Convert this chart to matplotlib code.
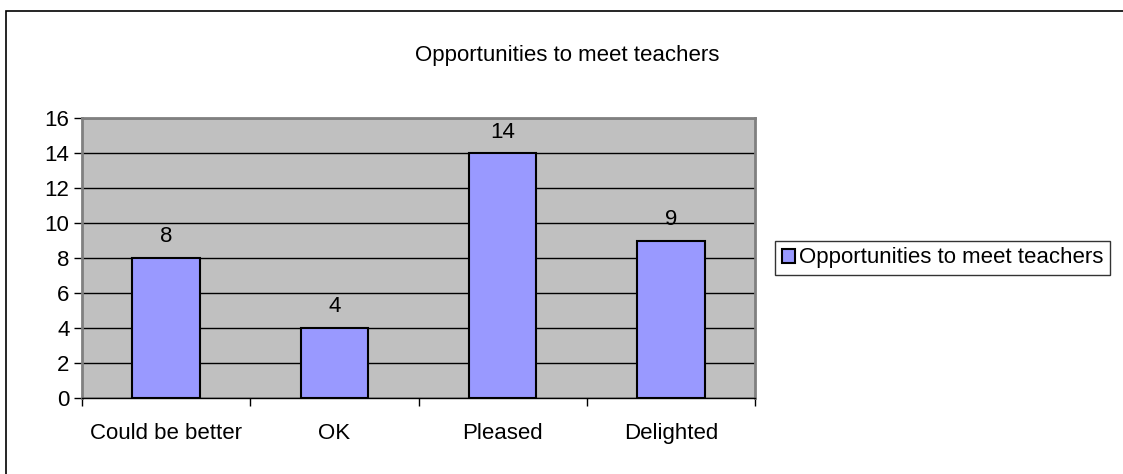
import matplotlib.pyplot as plt
from matplotlib.patches import Rectangle

categories = ['Could be better', 'OK', 'Pleased', 'Delighted']
values = [8, 4, 14, 9]
series_name = 'Opportunities to meet teachers'
title = 'Opportunities to meet teachers'
yticks = [0, 2, 4, 6, 8, 10, 12, 14, 16]

plt.rcParams['font.family'] = ['Liberation Sans', 'DejaVu Sans']
fs = 16

W, H = 1123, 474
fig = plt.figure(figsize=(W / 100, H / 100), dpi=100)

# outer chart border (right/bottom fall outside the image)
fig.patches.append(Rectangle((6 / W, -0.5), 1.2, 0.5 + 1 - 11 / H, transform=fig.transFigure,
                             fill=False, edgecolor='black', lw=1.2, zorder=0))

ax = fig.add_axes([82 / W, 1 - 398 / H, (755 - 82) / W, (398 - 118) / H])
ax.set_facecolor('#C0C0C0')

x = list(range(len(categories)))
bars = ax.bar(x, values, width=0.4, color='#9999FF', edgecolor='black', lw=1.5, zorder=3,
              label=series_name)
for xi, v in zip(x, values):
    ax.text(xi, v + 0.6, str(v), ha='center', va='bottom', fontsize=fs)

ax.set_xlim(-0.5, len(categories) - 0.5)
ax.set_ylim(0, 16)
ax.set_yticks(yticks)
ax.set_yticklabels([str(t) for t in yticks], fontsize=fs)
ax.yaxis.grid(True, color='black', lw=1)
ax.set_axisbelow(True)
ax.tick_params(axis='y', length=6, width=1, pad=3)

ax.set_xticks([i - 0.5 for i in range(len(categories) + 1)])
ax.set_xticklabels([])
ax.set_xticks(x, minor=True)
ax.set_xticklabels(categories, minor=True, fontsize=fs)
ax.tick_params(axis='x', which='major', length=6, width=1)
ax.tick_params(axis='x', which='minor', length=0, pad=18)

for side in ['top', 'right', 'left']:
    ax.spines[side].set_color('#808080')
    ax.spines[side].set_linewidth(2)
ax.spines['bottom'].set_color('black')
ax.spines['bottom'].set_linewidth(1)

fig.text(567 / W, 1 - 55 / H, title, ha='center', va='center', fontsize=fs)

leg = fig.legend(handles=[bars], labels=[series_name], loc='center left',
                 bbox_to_anchor=(775 / W, 1 - 258 / H), fontsize=fs, frameon=True,
                 fancybox=False, edgecolor='black', handlelength=0.6, handleheight=0.6,
                 handletextpad=0.2, borderpad=0.3, borderaxespad=0)
leg.get_frame().set_linewidth(1)

fig.savefig('out.png', dpi=100)
